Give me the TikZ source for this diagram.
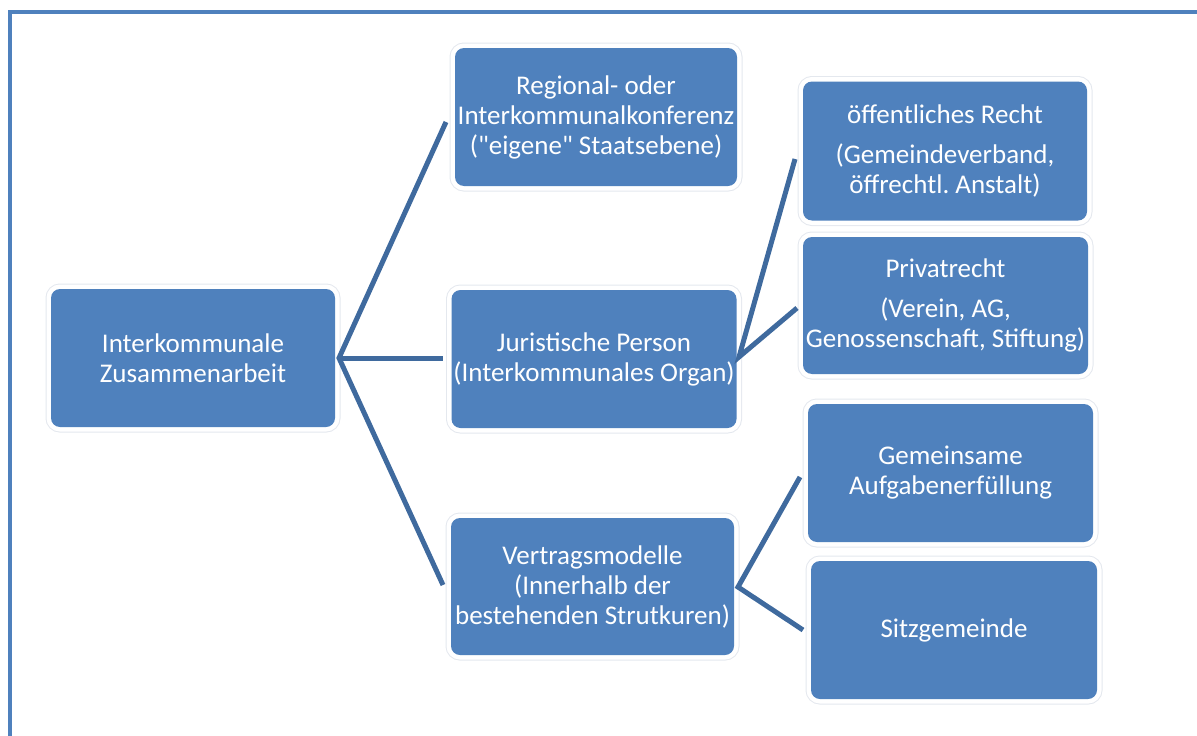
\documentclass[tikz,border=0pt]{standalone}
\usepackage{fontspec}
\setmainfont{Carlito}[Ligatures=TeXOff]
\frenchspacing
\definecolor{boxblue}{HTML}{4F81BD}
\definecolor{lineblue}{HTML}{3F6A9E}
\definecolor{halo}{HTML}{E4E8EE}
\begin{document}
\begin{tikzpicture}[x=1pt,y=-1pt,
  box/.style={rectangle, rounded corners=9pt, fill=boxblue, text=white,
    align=center, font=\fontsize{27}{30}\selectfont, inner sep=0pt,
    preaction={draw=halo, line width=11pt},
    preaction={draw=white, line width=9pt}},
  conn/.style={draw=lineblue, line width=5pt, line join=miter}]
\useasboundingbox (0,0) rectangle (1197,736);
\draw[boxblue, line width=4pt] (1199,11.5) -- (10,11.5) -- (10,738);

\node[box, minimum width=284pt, minimum height=138pt] (root) at (193,358)
  {Interkommunale\\Zusammenarbeit};
\node[box, minimum width=282pt, minimum height=138pt] (reg) at (596,117)
  {Regional- oder\\Interkommunalkonferenz\\("eigene" Staatsebene)};
\node[box, minimum width=285pt, minimum height=138pt] (jur) at (594,359)
  {Juristische Person\\(Interkommunales Organ)};
\node[box, minimum width=283pt, minimum height=137pt] (ver) at (592.5,586.5)
  {Vertragsmodelle\\(Innerhalb der\\bestehenden Strutkuren)};
\node[box, minimum width=284pt, minimum height=139pt] (oef) at (945,151)
  {öffentliches Recht\\[10pt](Gemeindeverband,\\öffrechtl. Anstalt)};
\node[box, minimum width=285pt, minimum height=137pt] (priv) at (945.5,305.5)
  {Privatrecht\\[10pt](Verein, AG,\\Genossenschaft, Stiftung)};
\node[box, minimum width=285pt, minimum height=138pt] (gem) at (950.5,473)
  {Gemeinsame\\Aufgabenerfüllung};
\node[box, minimum width=286pt, minimum height=138pt] (sitz) at (954,630)
  {Sitzgemeinde};

\coordinate (j0) at (339,358);
\coordinate (j1) at (739,357);
\coordinate (j2) at (738,587);
\coordinate (eReg) at (446,122);
\coordinate (eJur) at (443,358);
\coordinate (eVer) at (443,585);
\coordinate (eOef) at (795,159);
\coordinate (ePriv) at (797,308);
\coordinate (eGem) at (800,477);
\coordinate (eSitz) at (803,630);

\draw[conn] (eReg) -- (j0) -- (eVer);
\draw[conn] (j0) -- (eJur);
\draw[conn] (eOef) -- (j1) -- (ePriv);
\draw[conn] (eGem) -- (j2) -- (eSitz);
\end{tikzpicture}
\end{document}
